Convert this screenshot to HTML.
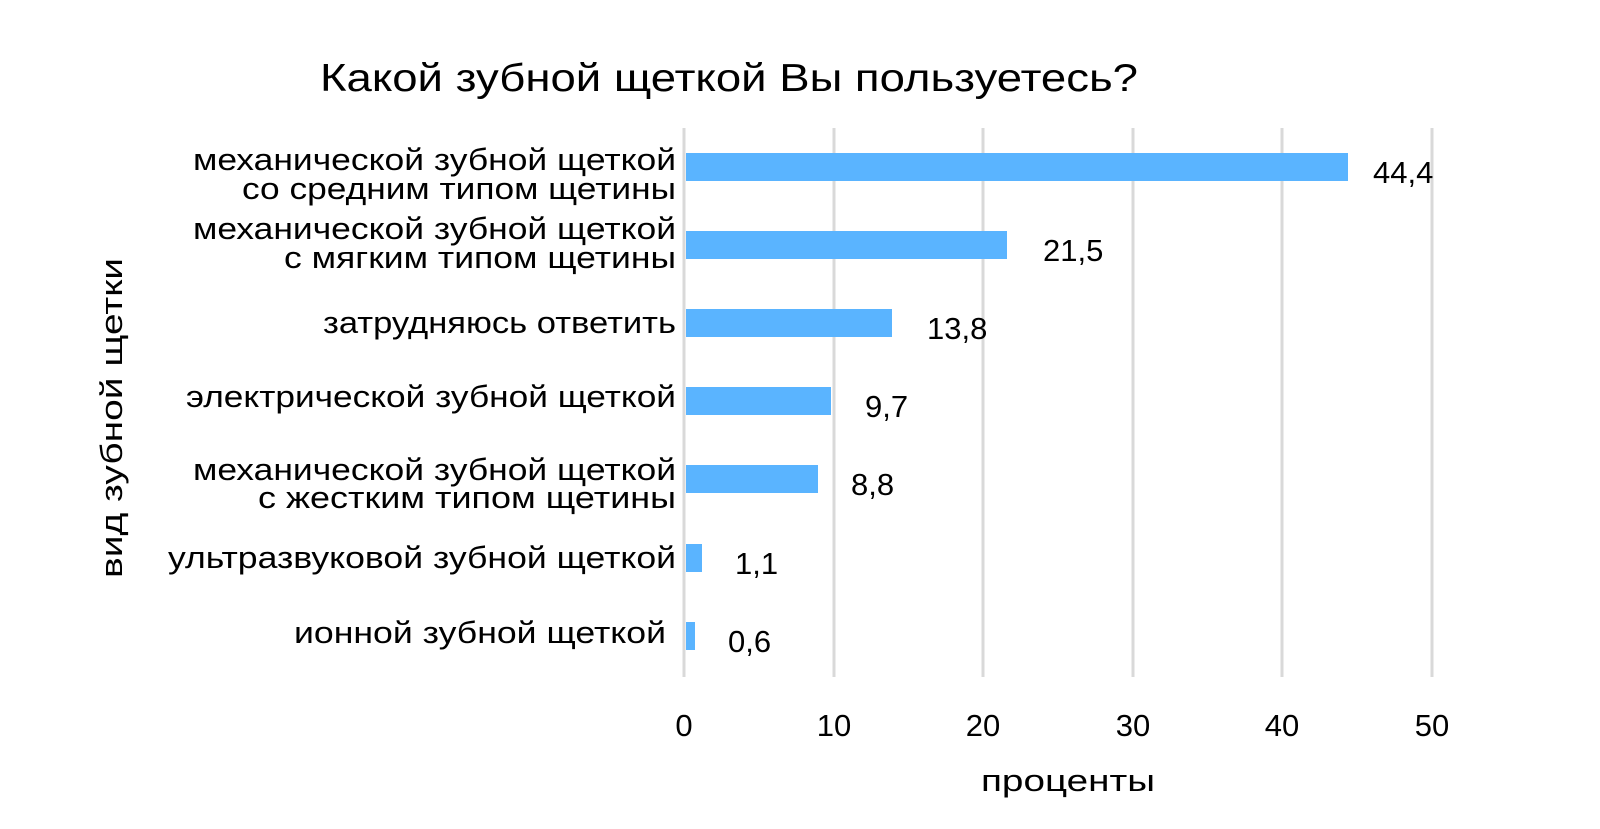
<!DOCTYPE html>
<html><head><meta charset="utf-8"><style>body{margin:0;background:#fff}svg{display:block}text{font-family:"Liberation Sans","DejaVu Sans",sans-serif;fill:#000}</style></head>
<body>
<svg width="1600" height="829" viewBox="0 0 1600 829">
<rect width="1600" height="829" fill="#fff"/>
<g stroke="#d9d9d9" stroke-width="3">
<line x1="684" y1="128" x2="684" y2="677"/>
<line x1="834" y1="128" x2="834" y2="677"/>
<line x1="983" y1="128" x2="983" y2="677"/>
<line x1="1133" y1="128" x2="1133" y2="677"/>
<line x1="1282" y1="128" x2="1282" y2="677"/>
<line x1="1432" y1="128" x2="1432" y2="677"/>
</g>
<g fill="#5ab4ff">
<rect x="686" y="153" width="662" height="28"/>
<rect x="686" y="231" width="321" height="28"/>
<rect x="686" y="309" width="206" height="28"/>
<rect x="686" y="387" width="145" height="28"/>
<rect x="686" y="465" width="132" height="28"/>
<rect x="686" y="544" width="16" height="28"/>
<rect x="686" y="622" width="9" height="28"/>
</g>
<text x="320" y="91" font-size="39" textLength="818" lengthAdjust="spacingAndGlyphs">Какой зубной щеткой Вы пользуетесь?</text>
<g font-size="31" text-anchor="end">
<text x="676" y="170" textLength="483" lengthAdjust="spacingAndGlyphs">механической зубной щеткой</text>
<text x="676" y="199" textLength="434" lengthAdjust="spacingAndGlyphs">со средним типом щетины</text>
<text x="676" y="239" textLength="483" lengthAdjust="spacingAndGlyphs">механической зубной щеткой</text>
<text x="676" y="268" textLength="392" lengthAdjust="spacingAndGlyphs">с мягким типом щетины</text>
<text x="676" y="333" textLength="353" lengthAdjust="spacingAndGlyphs">затрудняюсь ответить</text>
<text x="676" y="407" textLength="490" lengthAdjust="spacingAndGlyphs">электрической зубной щеткой</text>
<text x="676" y="480" textLength="483" lengthAdjust="spacingAndGlyphs">механической зубной щеткой</text>
<text x="676" y="508" textLength="418" lengthAdjust="spacingAndGlyphs">с жестким типом щетины</text>
<text x="676" y="568" textLength="508" lengthAdjust="spacingAndGlyphs">ультразвуковой зубной щеткой</text>
<text x="666" y="643" textLength="372" lengthAdjust="spacingAndGlyphs">ионной зубной щеткой</text>
</g>
<g font-size="31">
<text x="1373" y="183">44,4</text>
<text x="1043" y="261">21,5</text>
<text x="927" y="339">13,8</text>
<text x="865" y="417">9,7</text>
<text x="851" y="495">8,8</text>
<text x="735" y="574">1,1</text>
<text x="728" y="652">0,6</text>
</g>
<g font-size="31" text-anchor="middle">
<text x="684" y="736">0</text>
<text x="834" y="736">10</text>
<text x="983" y="736">20</text>
<text x="1133" y="736">30</text>
<text x="1282" y="736">40</text>
<text x="1432" y="736">50</text>
<text x="1068" y="791" textLength="174" lengthAdjust="spacingAndGlyphs">проценты</text>
<text transform="translate(122,418) rotate(-90)" textLength="320" lengthAdjust="spacingAndGlyphs">вид зубной щетки</text>
</g>
</svg>
</body></html>
